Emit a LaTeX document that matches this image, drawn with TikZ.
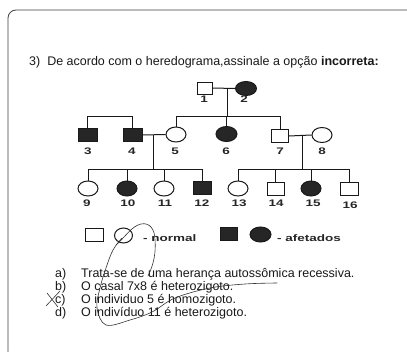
\documentclass[tikz,border=0pt]{standalone}
\usepackage{fontspec}
\setmainfont{Liberation Sans}
\usetikzlibrary{shapes.geometric}
\newcommand\pedlab[1]{\scalebox{1.42}[1]{#1}}
\begin{document}
\begin{tikzpicture}[x=1pt,y=-1pt,
  ink/.style={line width=1pt, draw=black!90},
  sqn/.style={ink, rectangle, inner sep=0pt, minimum width=17pt, minimum height=13pt, fill=white},
  sqa/.style={sqn, fill=black!85},
  cin/.style={ink, ellipse, inner sep=0pt, minimum width=20pt, minimum height=15pt, fill=white},
  cia/.style={cin, fill=black!85},
  lab/.style={font=\bfseries\fontsize{9.5}{10}\selectfont, inner sep=0pt, text=black!85},
  txt/.style={font=\fontsize{12.5}{14}\selectfont, inner sep=0pt, anchor=base west, text=black!90},
  frame/.style={line width=0.8pt, draw=black!75, rounded corners=8pt},
  pen/.style={line width=0.6pt, draw=black!80, line cap=round}
]
\useasboundingbox (0,0) rectangle (407,351);
\fill[white] (0,0) rectangle (407,351);
\draw[frame] (8,370) -- (8,10) -- (430,10);

% title
\node[txt] (title) at (29,65) {3)\ \ De acordo com o heredograma,assinale a opção \textbf{incorreta:}};

% generation I
\node[sqn, minimum width=15pt, minimum height=12pt] (p1) at (204.5,88) {};
\node[cia, minimum width=21pt, minimum height=14pt] (p2) at (246,88.5) {};
\draw[ink] (p1.east) -- (p2.west);
\coordinate (m12) at (227,88);
\coordinate (s1) at (227,116);
\draw[ink] (m12) -- (s1);
\node[lab] (l1) at (204,99) {\pedlab{1}};
\node[lab] (l2) at (244,99) {\pedlab{2}};

% generation II
\node[sqa, minimum width=19pt] (p3) at (87.5,134.5) {};
\node[sqa, minimum width=19pt] (p4) at (132.5,135) {};
\node[cin] (p5) at (176,134.5) {};
\node[cia, minimum width=21pt] (p6) at (226.5,134) {};
\node[sqn] (p7) at (280,136) {};
\node[cin] (p8) at (322,135) {};
\coordinate (t3) at (87.5,116);
\coordinate (t4) at (132.5,116);
\draw[ink] (p3.north) -- (t3) -- (t4) -- (p4.north);
\coordinate (t5) at (176,116);
\coordinate (t7) at (280,116);
\draw[ink] (p5.north) -- (t5) -- (t7) -- (p7.north);
\draw[ink] (p6.north) -- (226.5,116);
\draw[ink] (p4.east) -- (p5.west);
\draw[ink] (p7.east) -- (p8.west);
\node[lab] (l3) at (88,151) {\pedlab{3}};
\node[lab] (l4) at (132,151) {\pedlab{4}};
\node[lab] (l5) at (175,151) {\pedlab{5}};
\node[lab] (l6) at (226,151) {\pedlab{6}};
\node[lab] (l7) at (280,151.5) {\pedlab{7}};
\node[lab] (l8) at (322,151.5) {\pedlab{8}};

% generation III
\node[cin] (p9) at (88,188.5) {};
\node[cia] (p10) at (127,188.5) {};
\node[cin] (p11) at (164,188.5) {};
\node[sqa, minimum width=18pt] (p12) at (202,188) {};
\node[cin] (p13) at (238,188.5) {};
\node[sqn] (p14) at (275.5,188.5) {};
\node[cia] (p15) at (311,188.5) {};
\node[sqn, minimum width=18pt] (p16) at (349,189) {};
\coordinate (m45) at (153,135);
\coordinate (s45) at (153,169);
\draw[ink] (m45) -- (s45);
\coordinate (m78) at (302,136);
\coordinate (s78) at (302,169);
\draw[ink] (m78) -- (s78);
\draw[ink] (p9.north) -- (88,169) -- (202,169) -- (p12.north);
\draw[ink] (p10.north) -- (127,169);
\draw[ink] (p11.north) -- (164,169);
\draw[ink] (p13.north) -- (238,169) -- (349,169) -- (p16.north);
\draw[ink] (p14.north) -- (275.5,169);
\draw[ink] (p15.north) -- (311,169);
\node[lab] (l9) at (87,203) {\pedlab{9}};
\node[lab] (l10) at (128,203) {\pedlab{10}};
\node[lab] (l11) at (165,203) {\pedlab{11}};
\node[lab] (l12) at (202,203) {\pedlab{12}};
\node[lab] (l13) at (239,203) {\pedlab{13}};
\node[lab] (l14) at (276,203) {\pedlab{14}};
\node[lab] (l15) at (313,203) {\pedlab{15}};
\node[lab] (l16) at (350,205) {\pedlab{16}};

% legend
\node[sqn, minimum width=18pt] (ln1) at (94,235) {};
\node[cin, minimum width=18pt] (ln2) at (123.5,235.5) {};
\node[lab, anchor=west] (lnt) at (143,238) {\pedlab{- normal}};
\node[sqa] (la1) at (228.5,234) {};
\node[cia, minimum width=21pt] (la2) at (260.5,234.5) {};
\node[lab, anchor=west] (lat) at (277,238.5) {\pedlab{- afetados}};

% options
\node[txt] (oa) at (55,277) {a)};
\node[txt] (ta) at (81,277) {Trata-se de uma herança autossômica recessiva.};
\node[txt] (ob) at (55,290) {b)};
\node[txt] (tb) at (81,290) {O casal 7x8 é heterozigoto.};
\node[txt] (oc) at (55,303) {c)};
\node[txt] (tc) at (81,303) {O individuo 5 é homozigoto.};
\node[txt] (od) at (55,316) {d)};
\node[txt] (td) at (81,316) {O indivíduo 11 é heterozigoto.};

% handwritten marks
\draw[pen] (116,245) .. controls (126,236) and (132,226) .. (141,224)
  .. controls (150,222) and (155,230) .. (155,240)
  .. controls (156,252) and (154,264) .. (148,276);
\draw[pen] plot[smooth, tension=0.6] coordinates {(122,238) (113,250) (106,268) (100,288) (97,308) (106,325) (130,320) (152,312) (175,298) (210,288) (245,284) (277,283)};
\draw[pen] (46,306) -- (60,291);
\draw[pen] (47,293) -- (58,307);
\end{tikzpicture}
\end{document}
